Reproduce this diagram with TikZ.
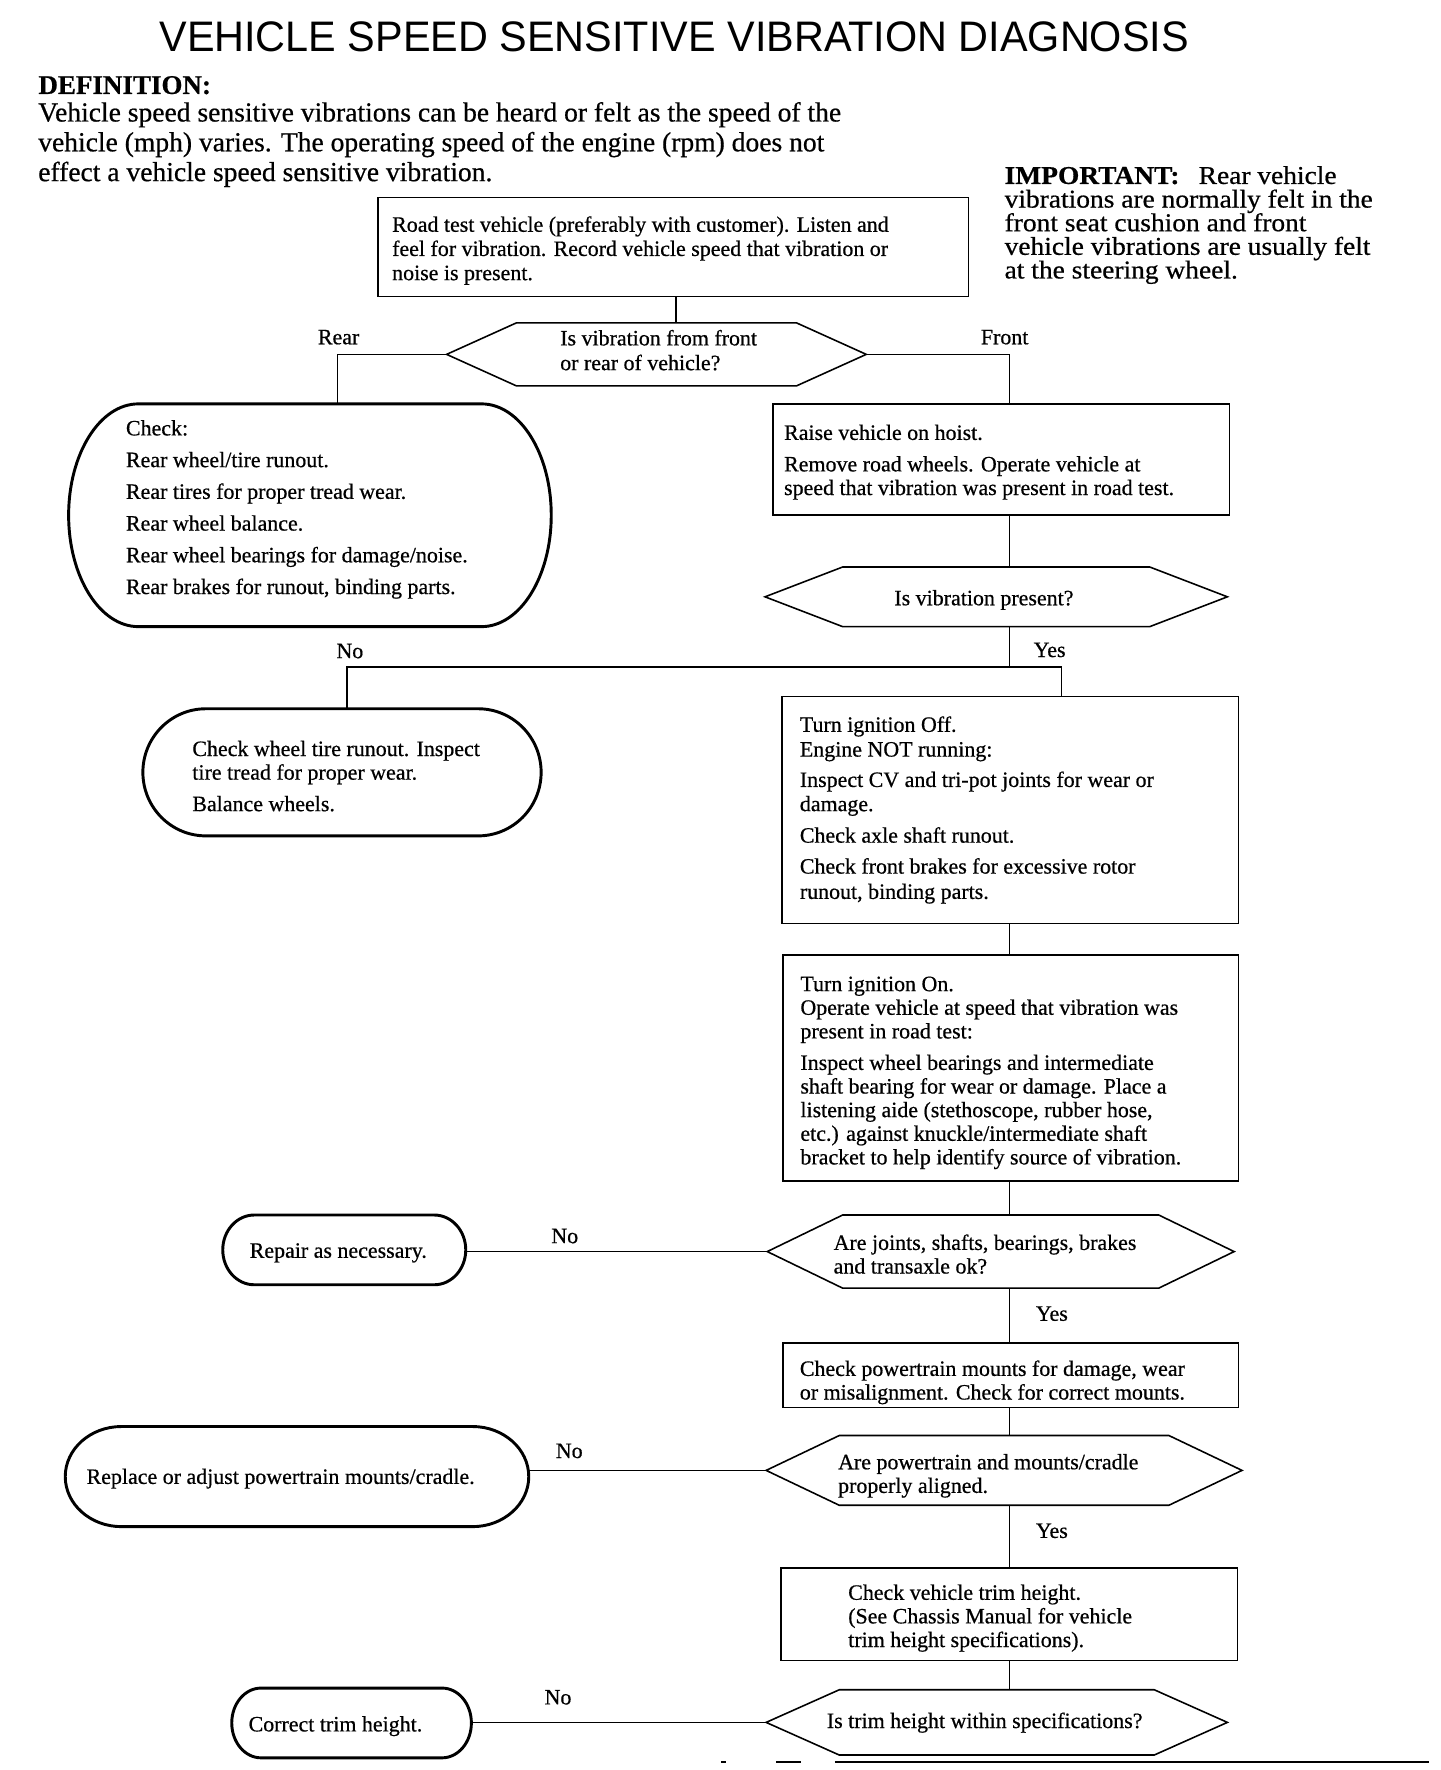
\documentclass[tikz,border=0pt]{standalone}
\usepackage{fontspec}
\setmainfont{Liberation Serif}[FakeBold=0.6]
\newfontfamily\titlefont{Liberation Sans}
\newcommand\ffont{\fontsize{19.5}{21.5}\selectfont}
\newcommand\impfont{\fontsize{22.8}{21}\selectfont}
\newcommand\hexnode[6]{%
  \node[hidden, minimum width=#4pt, minimum height=#5pt] (#1) at (#2,#3) {};
  \draw[shapeline] ([xshift=#6pt]#1.north west) -- ([xshift=-#6pt]#1.north east) -- (#1.east)
     -- ([xshift=-#6pt]#1.south east) -- ([xshift=#6pt]#1.south west) -- (#1.west) -- cycle;}
\newcommand\stadnode[6]{%
  \node[hidden, minimum width=#4pt, minimum height=#5pt] (#1) at (#2,#3) {};
  \draw[stadline] ([xshift=#6pt]#1.north west) -- ([xshift=-#6pt]#1.north east)
     arc[start angle=90, end angle=-90, x radius=#6pt, y radius=#5pt/2]
     -- ([xshift=#6pt]#1.south west)
     arc[start angle=270, end angle=90, x radius=#6pt, y radius=#5pt/2] -- cycle;}
\newcommand\textlines[4][]{%
  \foreach \lyy/\ltx [count=\lnum] in {#4} {\node[txt,#1] (#2\lnum) at (#3,\lyy) {\ltx};}}
\newcommand\widelines[3]{%
  \foreach \lyy/\ltx [count=\lnum] in {#3} {\node[txt,font=\impfont] (#1\lnum) at (#2,\lyy) {\scalebox{1.07}[1]{\ltx}};}}
\begin{document}
\begin{tikzpicture}[x=1pt,y=-1pt,
  shapeline/.style={line width=1.4pt, line join=miter},
  stadline/.style={line width=2.6pt},
  conn/.style={line width=1.3pt},
  hidden/.style={draw=none, inner sep=0pt, outer sep=0pt},
  boxnode/.style={draw, line width=1.4pt, inner sep=0pt, outer sep=0pt},
  txt/.style={anchor=base west, inner sep=0pt, outer sep=0pt, font=\ffont},
  lbl/.style={anchor=base, inner sep=0pt, outer sep=0pt, font=\ffont},
]
\useasboundingbox (0,0) rectangle (1280,1573.33);

% ---------- header ----------
\node[anchor=base west, inner sep=0pt] (title) at (141.5,46)
  {\resizebox{915pt}{26.5pt}{\titlefont VEHICLE SPEED SENSITIVE VIBRATION DIAGNOSIS}};
\node[anchor=base west, inner sep=0pt, font=\fontsize{24}{24}\selectfont\bfseries] (def) at (34,83.5) {DEFINITION:};
\textlines[font=\fontsize{24.5}{26.5}\selectfont]{defl}{34}{108/{Vehicle speed sensitive vibrations can be heard or felt as the speed of the},
  134.5/{vehicle (mph) varies. The operating speed of the engine (rpm) does not},
  161/{effect a vehicle speed sensitive vibration.}}
\widelines{imp}{893}{163.5/{\textbf{IMPORTANT:}\hspace{0.45em} Rear vehicle},
  184.5/{vibrations are normally felt in the},
  205.5/{front seat cushion and front},
  226.5/{vehicle vibrations are usually felt},
  247.5/{at the steering wheel.}}

% ---------- shapes ----------
\node[boxnode, minimum width=525pt, minimum height=88pt] (b1) at (598.5,219.5) {};
\textlines{b1t}{348.6}{206/{Road test vehicle (preferably with customer). Listen and},
  227.5/{feel for vibration. Record vehicle speed that vibration or},
  249/{noise is present.}}

\hexnode{d1}{583.5}{315}{373}{56}{62}
\textlines{d1t}{498}{307/{Is vibration from front},329/{or rear of vehicle?}}

\stadnode{chk}{275.5}{458}{429}{198}{62}
\textlines{chkt}{112}{387/{Check:},415.2/{Rear wheel/tire runout.},443.4/{Rear tires for proper tread wear.},
  471.6/{Rear wheel balance.},499.8/{Rear wheel bearings for damage/noise.},528/{Rear brakes for runout, binding parts.}}

\node[boxnode, minimum width=406pt, minimum height=99pt] (raise) at (890,408.5) {};
\textlines{rt}{697}{391/{Raise vehicle on hoist.},419/{Remove road wheels. Operate vehicle at},
  440/{speed that vibration was present in road test.}}

\hexnode{d2}{885.5}{530.5}{411}{53}{69}
\node[txt] (d2t) at (795,538) {Is vibration present?};

\stadnode{st2}{304}{686.5}{354}{113}{56}
\textlines{st2t}{171}{672/{Check wheel tire runout. Inspect},693/{tire tread for proper wear.},721/{Balance wheels.}}

\node[boxnode, minimum width=406pt, minimum height=202pt] (off) at (898,720) {};
\textlines{offt}{711}{650.5/{Turn ignition Off.},672.5/{Engine NOT running:},699.5/{Inspect CV and tri-pot joints for wear or},
  721/{damage.},749/{Check axle shaft runout.},776.5/{Check front brakes for excessive rotor},799/{runout, binding parts.}}

\node[boxnode, minimum width=405pt, minimum height=201pt] (on) at (898.5,949.5) {};
\textlines{ont}{711.5}{881/{Turn ignition On.},902/{Operate vehicle at speed that vibration was},923/{present in road test:},
  951/{Inspect wheel bearings and intermediate},972/{shaft bearing for wear or damage. Place a},
  993/{listening aide (stethoscope, rubber hose,},1014/{etc.) against knuckle/intermediate shaft},
  1035/{bracket to help identify source of vibration.}}

\hexnode{d3}{889.5}{1112.5}{415}{65}{67}
\textlines{d3t}{741}{1111/{Are joints, shafts, bearings, brakes},1132/{and transaxle ok?}}

\stadnode{rep}{306}{1111}{216}{62}{28}
\node[txt] (rept) at (222,1118) {Repair as necessary.};

\node[boxnode, minimum width=405pt, minimum height=57pt] (pt) at (898.5,1222.5) {};
\textlines{ptt}{711}{1223/{Check powertrain mounts for damage, wear},1244/{or misalignment. Check for correct mounts.}}

\hexnode{d4}{892.5}{1307}{423}{62}{65}
\textlines{d4t}{745}{1306/{Are powertrain and mounts/cradle},1327/{properly aligned.}}

\stadnode{rep2}{264}{1312.5}{412}{89}{50}
\node[txt] (rep2t) at (77,1319) {Replace or adjust powertrain mounts/cradle.};

\node[boxnode, minimum width=406pt, minimum height=82pt] (trim) at (897,1435) {};
\textlines{trt}{754}{1422/{Check vehicle trim height.},1443/{(See Chassis Manual for vehicle},1464/{trim height specifications).}}

\hexnode{d5}{886}{1531}{410}{58}{65}
\node[txt] (d5t) at (735,1536) {Is trim height within specifications?};

\stadnode{cor}{312.5}{1531.5}{213}{62}{26}
\node[txt] (cort) at (221,1539) {Correct trim height.};

% ---------- connectors ----------
\coordinate (sp) at (897.5,0);
\coordinate (c0) at (601,0);
\coordinate (rearx) at (300,0);
\coordinate (nox) at (308.5,0);
\coordinate (yesx) at (943.5,0);
\coordinate (jy) at (0,593);

\draw[conn] (b1.south -| c0) -- (d1.north -| c0);
\draw[conn] (d1.west) -| (chk.north -| rearx);
\draw[conn] (d1.east) -| (raise.north -| sp);
\draw[conn] (raise.south -| sp) -- (d2.north -| sp);
\draw[conn] (d2.south -| sp) -- (sp |- jy);
\draw[conn] (st2.north -| nox) |- (yesx |- jy) -- (off.north -| yesx);
\draw[conn] (off.south -| sp) -- (on.north -| sp);
\draw[conn] (on.south -| sp) -- (d3.north -| sp);
\draw[conn] (d3.west) -- (d3.west -| rep.east);
\draw[conn] (d3.south -| sp) -- (pt.north -| sp);
\draw[conn] (pt.south -| sp) -- (d4.north -| sp);
\draw[conn] (d4.west) -- (d4.west -| rep2.east);
\draw[conn] (d4.south -| sp) -- (trim.north -| sp);
\draw[conn] (trim.south -| sp) -- (d5.north -| sp);
\draw[conn] (d5.west) -- (d5.west -| cor.east);

% ---------- labels ----------
\node[lbl] (lrear) at (301,306) {Rear};
\node[lbl] (lfront) at (893,306) {Front};
\node[lbl] (lno1) at (311,585) {No};
\node[lbl] (lyes1) at (933,584) {Yes};
\node[lbl] (lno2) at (502,1105) {No};
\node[lbl] (lyes2) at (935,1174) {Yes};
\node[lbl] (lno3) at (506,1296) {No};
\node[lbl] (lyes3) at (935,1367) {Yes};
\node[lbl] (lno4) at (496,1515) {No};

% ---------- cut-off rule at the bottom edge ----------
\draw[conn] (641,1566) -- (645,1566);
\draw[conn] (690,1566) -- (712,1566);
\draw[conn] (742,1566) -- (1270,1566);
\end{tikzpicture}
\end{document}
